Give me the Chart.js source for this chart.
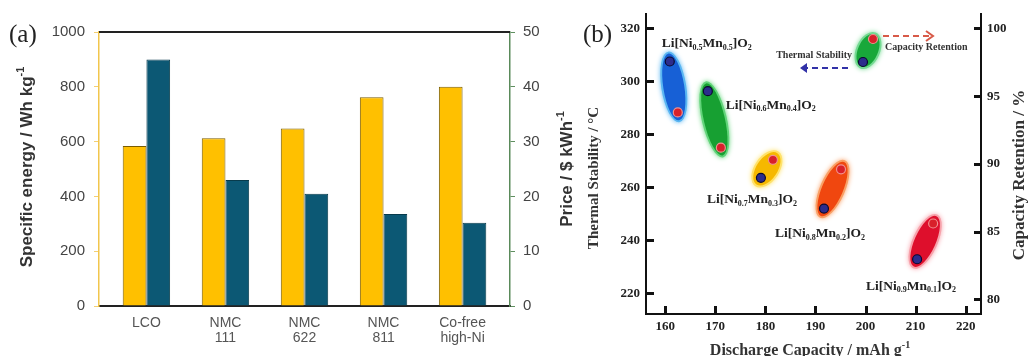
<!DOCTYPE html>
<html>
<head>
<meta charset="utf-8">
<script src="https://cdn.jsdelivr.net/npm/chart.js@4.4.1/dist/chart.umd.min.js"></script>
<style>
  html, body { margin: 0; padding: 0; background: #fff; }
  #wrap { position: relative; width: 1029px; height: 356px; overflow: hidden; }
  #ca { position: absolute; left: 0; top: 0; }
  #cb { position: absolute; left: 575px; top: 0; }
</style>
</head>
<body>
<div id="wrap">
  <canvas id="ca" width="590" height="356"></canvas>
  <canvas id="cb" width="454" height="356"></canvas>
</div>
<script>
// ---------- (a) cathode chemistries: specific energy vs. price ----------
const cathodes = [['LCO'], ['NMC', '111'], ['NMC', '622'], ['NMC', '811'], ['Co-free', 'high-Ni']];
const specificEnergy = [584, 612, 648, 762, 800];    // Wh kg-1 (left axis)
const price = [45, 23, 20.5, 16.8, 15.2];            // $ kWh-1 (right axis)

// ---------- (b) Li[NixMn1-x]O2: capacity, thermal stability, retention ----------
const niContent = ['0.5', '0.6', '0.7', '0.8', '0.9'];
const mnContent = ['0.5', '0.4', '0.3', '0.2', '0.1'];
const capacityTS = [160.9, 168.5, 179.1, 191.7, 210.3];        // mAh g-1
const thermalStability = [307.5, 296.3, 263.6, 252.0, 232.9];  // deg C
const capacityCR = [162.5, 171.1, 181.5, 195.1, 213.5];        // mAh g-1
const capacityRetention = [93.8, 91.2, 90.3, 89.6, 85.6];      // %

// ---------- styling ----------
const SANS = '"Liberation Sans", Arial, sans-serif';
const SERIF = '"Liberation Serif", "Times New Roman", serif';
const ellipseStyles = [
  { fill: '#1760d6', rim: '#5ab6f2' },
  { fill: '#17a032', rim: '#62d47a' },
  { fill: '#f6b800', rim: '#ffe26a' },
  { fill: '#f0470f', rim: '#f9a066' },
  { fill: '#de0f2c', rim: '#f7a2ab' }
];
const labelOffsets = [[-8, -18], [18, 14], [-54, 22], [-49, 25], [-51, 27]];

// draws a run of text pieces; role 0 = normal, 1 = subscript, 2 = superscript
function richText(ctx, parts, x, y, mainFont, smallFont, align) {
  ctx.save();
  ctx.textBaseline = 'middle';
  ctx.textAlign = 'left';
  const widths = parts.map(([t, r]) => { ctx.font = r ? smallFont : mainFont; return ctx.measureText(t).width; });
  const total = widths.reduce((s, w) => s + w, 0);
  let cx = align === 'center' ? x - total / 2 : (align === 'right' ? x - total : x);
  parts.forEach(([t, r], i) => {
    ctx.font = r ? smallFont : mainFont;
    const dy = r === 1 ? 4 : (r === 2 ? -6 : 0);
    ctx.fillText(t, cx, y + dy);
    cx += widths[i];
  });
  ctx.restore();
}
function rotatedText(ctx, parts, x, y, mainFont, smallFont) {
  ctx.save();
  ctx.translate(x, y);
  ctx.rotate(-Math.PI / 2);
  richText(ctx, parts, 0, 0, mainFont, smallFont, 'center');
  ctx.restore();
}

// ---------- chart (a) ----------
const panelA = {
  id: 'panelA',
  afterDraw(chart) {
    const { ctx, chartArea: a } = chart;
    ctx.save();
    ctx.fillStyle = '#222';
    ctx.fillRect(a.left, a.top - 1, a.right - a.left, 2);
    richText(ctx, [['(a)', 0]], 9, 35, '25px ' + SERIF, '', 'left');
    ctx.fillStyle = '#333';
    rotatedText(ctx, [['Specific energy / Wh kg', 0], ['-1', 2]], 27, 167, 'bold 17px ' + SANS, 'bold 11px ' + SANS);
    rotatedText(ctx, [['Price / $ kWh', 0], ['-1', 2]], 567, 169, 'bold 17px ' + SANS, 'bold 11px ' + SANS);
    ctx.restore();
  }
};

new Chart(document.getElementById('ca'), {
  type: 'bar',
  data: {
    datasets: [
      {
        label: 'Specific energy',
        data: specificEnergy.map((v, i) => ({ x: i, y: v })),
        yAxisID: 'y',
        backgroundColor: '#FFC000',
        borderColor: '#7a5c00',
        borderWidth: 1,
        categoryPercentage: 0.6,
        barPercentage: 1
      },
      {
        label: 'Price',
        data: price.map((v, i) => ({ x: i, y: v })),
        yAxisID: 'y1',
        backgroundColor: '#0c5874',
        borderColor: '#083b4c',
        borderWidth: 1,
        categoryPercentage: 0.6,
        barPercentage: 1
      }
    ]
  },
  options: {
    responsive: false,
    animation: false,
    devicePixelRatio: 1,
    layout: { padding: { top: 32, left: 0, right: 0, bottom: 0 } },
    plugins: { legend: { display: false }, tooltip: { enabled: false } },
    scales: {
      x: {
        type: 'linear',
        min: -0.6,
        max: 4.6,
        offset: false,
        afterBuildTicks: s => { s.ticks = cathodes.map((_, i) => ({ value: i })); },
        afterFit: s => { s.height = 50; },
        ticks: {
          callback: v => cathodes[v],
          font: { family: SANS, size: 14, lineHeight: 1.1 },
          color: '#555',
          padding: 9,
          maxRotation: 0,
          autoSkip: false
        },
        grid: { display: false, drawTicks: false, offset: false },
        border: { display: true, color: '#222', width: 2 }
      },
      y: {
        position: 'left',
        min: 0,
        max: 1000,
        ticks: { stepSize: 200, callback: v => String(v), font: { family: SANS, size: 15 }, color: '#444', padding: 9 },
        grid: { drawOnChartArea: false, color: '#f3cf73', tickLength: 5 },
        border: { color: '#f2c64c', width: 1.5 },
        afterFit: s => { s.width = 99; }
      },
      y1: {
        position: 'right',
        min: 0,
        max: 50,
        ticks: { stepSize: 10, callback: v => String(v), font: { family: SANS, size: 15 }, color: '#444', padding: 8 },
        grid: { drawOnChartArea: false, color: '#5f8f5f', tickLength: 5 },
        border: { color: '#5a8a5a', width: 1.5 },
        afterFit: s => { s.width = 80; }
      }
    }
  },
  plugins: [panelA]
});

// ---------- chart (b) ----------
function drawEllipse(ctx, p, q, pad, minor, style) {
  const cx = (p.x + q.x) / 2, cy = (p.y + q.y) / 2;
  const ang = Math.atan2(q.y - p.y, q.x - p.x);
  const major = Math.hypot(q.x - p.x, q.y - p.y) / 2 + pad;
  ctx.save();
  ctx.shadowColor = style.rim;
  ctx.shadowBlur = 5;
  ctx.beginPath();
  ctx.ellipse(cx, cy, major, minor, ang, 0, Math.PI * 2);
  ctx.fillStyle = style.rim;
  ctx.fill();
  ctx.shadowBlur = 0;
  ctx.beginPath();
  ctx.ellipse(cx, cy, major - 2, minor - 2, ang, 0, Math.PI * 2);
  ctx.fillStyle = style.fill;
  ctx.fill();
  ctx.restore();
}
function dot(ctx, x, y, fill, stroke) {
  ctx.save();
  ctx.beginPath();
  ctx.arc(x, y, 4.5, 0, Math.PI * 2);
  ctx.fillStyle = fill;
  ctx.fill();
  ctx.lineWidth = 1.2;
  ctx.strokeStyle = stroke;
  ctx.stroke();
  ctx.restore();
}
function dashedArrow(ctx, x0, x1, y, color, filledHead) {
  ctx.save();
  ctx.strokeStyle = color;
  ctx.fillStyle = color;
  ctx.lineWidth = 2;
  const dir = Math.sign(x1 - x0);
  ctx.setLineDash([6, 4]);
  ctx.beginPath();
  ctx.moveTo(x0, y);
  ctx.lineTo(x1 - dir * 4, y);
  ctx.stroke();
  ctx.setLineDash([]);
  ctx.beginPath();
  ctx.moveTo(x1 - dir * 7, y - 5);
  ctx.lineTo(x1, y);
  ctx.lineTo(x1 - dir * 7, y + 5);
  if (filledHead) { ctx.closePath(); ctx.fill(); } else { ctx.stroke(); }
  ctx.restore();
}

const panelB = {
  id: 'panelB',
  beforeDatasetsDraw(chart) {
    const ctx = chart.ctx;
    const ts = chart.getDatasetMeta(0).data;
    const cr = chart.getDatasetMeta(1).data;
    ts.forEach((p, i) => drawEllipse(ctx, p, cr[i], 10, 12.5, ellipseStyles[i]));
  },
  afterDraw(chart) {
    const { ctx, chartArea: a } = chart;
    const sx = chart.scales.x, sy = chart.scales.y, sy1 = chart.scales.y1;
    ctx.save();
    // inward tick marks
    ctx.fillStyle = '#111';
    sx.ticks.forEach((t, i) => { const px = Math.round(sx.getPixelForTick(i)); ctx.fillRect(px - 1, a.bottom - 8, 3, 8); });
    sy.ticks.forEach((t, i) => { const py = Math.round(sy.getPixelForTick(i)); ctx.fillRect(a.left, py - 1, 8, 3); });
    sy1.ticks.forEach((t, i) => { const py = Math.round(sy1.getPixelForTick(i)); ctx.fillRect(a.right - 7, py - 1, 7, 3); });

    // composition labels next to each pair
    const ts = chart.getDatasetMeta(0).data;
    ctx.fillStyle = '#222';
    ts.forEach((p, i) => {
      const [dx, dy] = labelOffsets[i];
      richText(ctx, [['Li[Ni', 0], [niContent[i], 1], ['Mn', 0], [mnContent[i], 1], [']O', 0], ['2', 1]],
        p.x + dx, p.y + dy, 'bold 13.5px ' + SERIF, 'bold 8px ' + SERIF, 'left');
    });

    // key: one pair with its two read-outs
    const kb = { x: 288, y: 62 }, kr = { x: 298, y: 39 };
    drawEllipse(ctx, kb, kr, 7, 12, { fill: '#18a83a', rim: '#74da92' });
    dot(ctx, kr.x, kr.y, '#d8202a', '#f09090');
    dot(ctx, kb.x, kb.y, '#2c2c8c', '#0a0a30');
    dashedArrow(ctx, 308, 358, 36, '#d85a48', false);
    dashedArrow(ctx, 273, 225, 68, '#3232a8', true);
    ctx.fillStyle = '#333';
    richText(ctx, [['Capacity Retention', 0]], 310, 47, 'bold 10px ' + SERIF, '', 'left');
    richText(ctx, [['Thermal Stability', 0]], 277, 55, 'bold 10px ' + SERIF, '', 'right');

    // panel letter and axis titles
    ctx.fillStyle = '#222';
    richText(ctx, [['(b)', 0]], 8, 35, '25px ' + SERIF, '', 'left');
    ctx.fillStyle = '#333';
    rotatedText(ctx, [['Thermal Stability / \u00b0C', 0]], 19, 178, 'bold 15px ' + SERIF, '');
    rotatedText(ctx, [['Capacity Retention / %', 0]], 445, 175, 'bold 17px ' + SERIF, '');
    richText(ctx, [['Discharge Capacity / mAh g', 0], ['-1', 2]], 235, 351, 'bold 16px ' + SERIF, 'bold 10px ' + SERIF, 'center');
    ctx.restore();
  }
};

const serifTicks = { family: SERIF, size: 13, weight: 'bold' };
new Chart(document.getElementById('cb'), {
  type: 'scatter',
  data: {
    datasets: [
      {
        label: 'Thermal Stability',
        data: capacityTS.map((c, i) => ({ x: c, y: thermalStability[i] })),
        yAxisID: 'y',
        pointRadius: 4.5,
        pointBackgroundColor: '#2c2c8c',
        pointBorderColor: '#0a0a30',
        pointBorderWidth: 1.2
      },
      {
        label: 'Capacity Retention',
        data: capacityCR.map((c, i) => ({ x: c, y: capacityRetention[i] })),
        yAxisID: 'y1',
        pointRadius: 4.5,
        pointBackgroundColor: '#d8202a',
        pointBorderColor: '#f09090',
        pointBorderWidth: 1.2
      }
    ]
  },
  options: {
    responsive: false,
    animation: false,
    devicePixelRatio: 1,
    layout: { padding: { top: 12, left: 0, right: 0, bottom: 0 } },
    plugins: { legend: { display: false }, tooltip: { enabled: false } },
    scales: {
      x: {
        type: 'linear',
        min: 156.15,
        max: 223.06,
        ticks: { stepSize: 10, includeBounds: false, font: serifTicks, color: '#222', padding: 5 },
        grid: { display: false, drawTicks: false },
        border: { color: '#111', width: 2 },
        afterFit: s => { s.height = 42; }
      },
      y: {
        position: 'left',
        min: 212.24,
        max: 325.5,
        ticks: { stepSize: 20, includeBounds: false, font: serifTicks, color: '#222', padding: 6 },
        grid: { display: false, drawTicks: false },
        border: { color: '#111', width: 2 },
        afterFit: s => { s.width = 71; }
      },
      y1: {
        position: 'right',
        min: 78.92,
        max: 101.08,
        ticks: { stepSize: 5, includeBounds: false, font: serifTicks, color: '#222', padding: 6 },
        grid: { display: false, drawTicks: false },
        border: { color: '#111', width: 2 },
        afterFit: s => { s.width = 48; }
      }
    }
  },
  plugins: [panelB]
});
</script>
</body>
</html>
